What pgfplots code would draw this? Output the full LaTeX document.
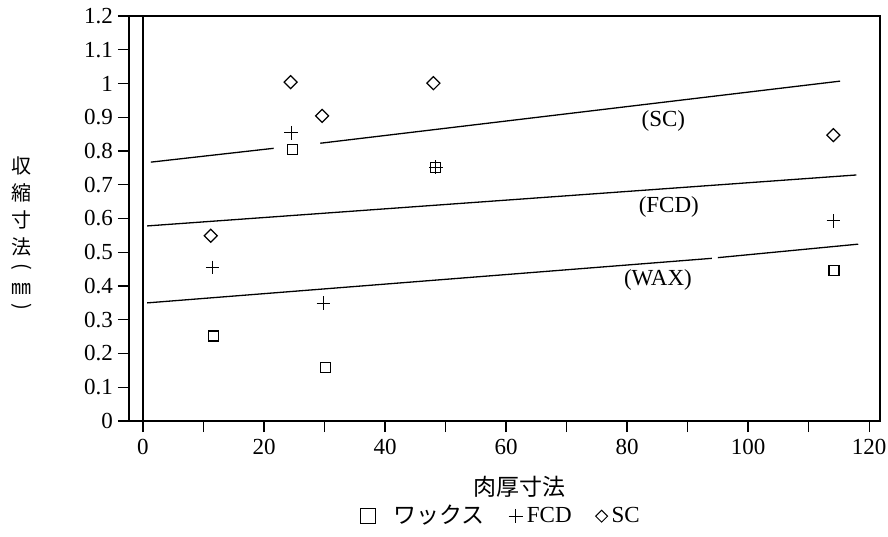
\documentclass[border=0pt]{standalone}
\usepackage{fontspec}
\setmainfont{Liberation Serif}
\newfontfamily\cjk{Noto Sans CJK JP}
\usepackage{pgfplots}
\pgfplotsset{compat=1.18}
\begin{document}
\begin{tikzpicture}
\useasboundingbox (-64.5pt,-57.5pt) rectangle (379.5pt,210.5pt);
\begin{axis}[at={(0,0)}, anchor=south west, scale only axis,
 width=375.5pt, height=202.5pt,
 xmin=-2.31, xmax=121.8, ymin=0, ymax=1.2,
 xtick={0,20,...,120}, minor xtick={10,30,...,110},
 ytick={0,0.1,0.2,0.3,0.4,0.5,0.6,0.7,0.8,0.9,1,1.1,1.2},
 yticklabels={0,0.1,0.2,0.3,0.4,0.5,0.6,0.7,0.8,0.9,1,1.1,1.2},
 tick align=outside, xtick pos=bottom, ytick pos=left,
 major tick length=5.5pt, minor tick length=5.5pt,
 tick style={black, line width=0.6pt},
 axis line style={line width=0.8pt},
 ticklabel style={font=\fontsize{11.5}{13}\selectfont},
 yticklabel style={xshift=1pt},
 /pgf/number format/assume math mode=true,
 clip=false,
 legend columns=3,
 legend style={draw=none, at={(0.497,-0.235)}, anchor=center,
   font=\fontsize{11.5}{13}\selectfont,
   /tikz/every even column/.append style={column sep=10pt}},
 legend cell align=left,
]
% vertical line at x = 0
\addplot[black, line width=0.8pt, forget plot] coordinates {(0,0) (0,1.2)};
% regression lines
\addplot[black, line width=0.65pt, forget plot] coordinates {(1.3,0.767) (21.6,0.808)};
\addplot[black, line width=0.65pt, forget plot] coordinates {(29.3,0.823) (115.2,1.007)};
\addplot[black, line width=0.65pt, forget plot] coordinates {(0.7,0.578) (117.9,0.729)};
\addplot[black, line width=0.65pt, forget plot] coordinates {(0.7,0.350) (94.0,0.482)};
\addplot[black, line width=0.65pt, forget plot] coordinates {(95.0,0.484) (118.2,0.524)};
% data
\addplot[only marks, mark=square, mark size=2.5pt, mark options={line width=0.6pt}, forget plot]
 coordinates {(11.6,0.252) (24.7,0.805) (30.2,0.158) (48.4,0.752) (114.2,0.445)};
\addplot[only marks, mark=+, mark size=3.4pt, mark options={line width=0.6pt}, forget plot]
 coordinates {(11.5,0.455) (24.5,0.854) (29.8,0.349) (48.4,0.752) (114.1,0.593)};
\addplot[only marks, mark=square, mark size=2.3pt, mark options={rotate=45, line width=0.6pt}, forget plot]
 coordinates {(11.2,0.549) (24.4,1.004) (29.6,0.904) (48.0,1.001) (114.1,0.847)};
\addlegendimage{only marks, mark=square, mark size=3.6pt, mark options={line width=0.5pt}}
\addlegendentry{\cjk\hspace{7pt}ワックス}
\addlegendimage{only marks, mark=+, mark size=3.6pt, mark options={line width=0.5pt}}
\addlegendentry{FCD}
\addlegendimage{only marks, mark=square, mark size=2.1pt, mark options={rotate=45, line width=0.5pt}}
\addlegendentry{SC}
% curve labels
\node[font=\fontsize{11.5}{13}\selectfont] at (axis cs:86,0.889) {(SC)};
\node[font=\fontsize{11.5}{13}\selectfont] at (axis cs:86.9,0.634) {(FCD)};
\node[font=\fontsize{11.5}{13}\selectfont] at (axis cs:85.1,0.418) {(WAX)};
% axis labels
\node[font=\cjk\fontsize{11.5}{13}\selectfont] at (rel axis cs:0.52,0) [yshift=-33pt] {肉厚寸法};
\node[font=\cjk\fontsize{10}{13.5}\selectfont, align=center] at (rel axis cs:-0.1425,0.459)
 {収\\縮\\寸\\法\\[-4pt]\rotatebox[origin=c]{-90}{(}\\[-3pt]㎜\\[-4pt]\rotatebox[origin=c]{-90}{)}};
\end{axis}
\end{tikzpicture}
\end{document}
